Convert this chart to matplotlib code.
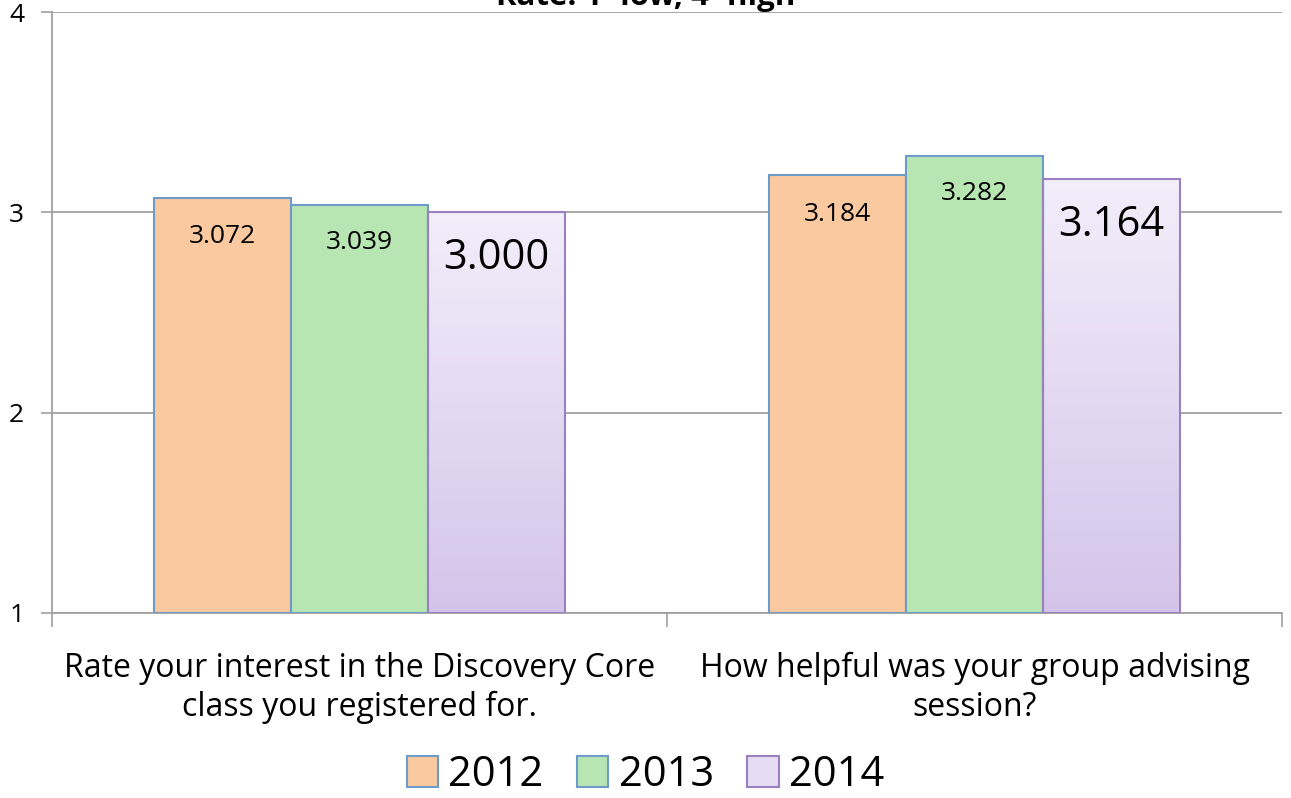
import numpy as np
import matplotlib.pyplot as plt
from matplotlib.colors import LinearSegmentedColormap

plt.rcParams['font.family'] = ['Open Sans', 'DejaVu Sans']

# Data
categories = ['Rate your interest in the Discovery Core\nclass you registered for.',
              'How helpful was your group advising\nsession?']
years = ['2012', '2013', '2014']
values = {
    '2012': [3.072, 3.184],
    '2013': [3.039, 3.282],
    '2014': [3.000, 3.164],
}
labels = {
    '2012': ['3.072', '3.184'],
    '2013': ['3.039', '3.282'],
    '2014': ['3.000', '3.164'],
}

fills = {'2012': '#FAC9A0', '2013': '#B7E6B3', '2014': '#E6DCF3'}
edges = {'2012': '#6F9BCB', '2013': '#6F9BCB', '2014': '#9A80C0'}
label_size = {'2012': 19, '2013': 19, '2014': 30}
label_off = {'2012': -28, '2013': -27, '2014': -33}

fig = plt.figure(figsize=(12.91, 7.98), dpi=100)
ax = fig.add_axes([52 / 1291, 1 - 613 / 798, 1230 / 1291, 601 / 798])

x = np.arange(len(categories))
width = 0.223
grad = LinearSegmentedColormap.from_list('g', ['#F2EEFA', '#D5C4EA'])

for i, yr in enumerate(years):
    pos = x + (i - 1) * width
    bars = ax.bar(pos, np.array(values[yr]) - 1, width, bottom=1,
                  color=fills[yr], edgecolor=edges[yr], linewidth=1.5, zorder=3)
    for j, b in enumerate(bars):
        if yr == '2014':
            # vertical gradient fill like the original
            b.set_facecolor('none')
            x0, y0 = b.get_x(), b.get_y()
            img = ax.imshow(np.linspace(0, 1, 256).reshape(-1, 1), cmap=grad,
                            aspect='auto', origin='upper',
                            extent=[x0, x0 + b.get_width(), y0, y0 + b.get_height()],
                            zorder=2.9)
            img.set_clip_path(b)
        ax.annotate(labels[yr][j], (b.get_x() + b.get_width() / 2, values[yr][j]),
                    xytext=(0, label_off[yr]), textcoords='offset points',
                    ha='center', va='center', fontsize=label_size[yr], zorder=5)

ax.set_xlim(-0.5, 1.5)
ax.set_ylim(1, 4)
ax.set_yticks([1, 2, 3, 4])
ax.tick_params(axis='y', labelsize=19, length=8, width=1.2, color='#A0A0A0',
               direction='out', pad=12)
ax.set_xticks(x)
ax.set_xticklabels(categories, fontsize=23, linespacing=1.25)
ax.tick_params(axis='x', length=0, pad=28)
ax.set_xticks([-0.5, 0.5, 1.5], minor=True)
ax.tick_params(axis='x', which='minor', length=10, width=1.2, color='#A0A0A0')

ax.grid(axis='y', color='#A0A0A0', linewidth=1.3, zorder=0)
for s in ['top', 'right']:
    ax.spines[s].set_visible(False)
for s in ['left', 'bottom']:
    ax.spines[s].set_color('#A0A0A0')
    ax.spines[s].set_linewidth(1.3)
ax.set_axisbelow(True)

fig.text(0.5, 1.004, 'Rate: 1=low, 4=high', ha='center', va='center',
         fontsize=22.5, fontweight='bold')

handles = [plt.Rectangle((0, 0), 1, 1, facecolor=fills[y], edgecolor=edges[y], linewidth=1.5)
           for y in years]
fig.legend(handles, years, loc='center', bbox_to_anchor=(0.5, 1 - 775 / 798), ncol=3,
           frameon=False, fontsize=30, handlelength=0.75, handleheight=0.75,
           handletextpad=0.25, columnspacing=0.8)

fig.savefig('out.png', dpi=100)
